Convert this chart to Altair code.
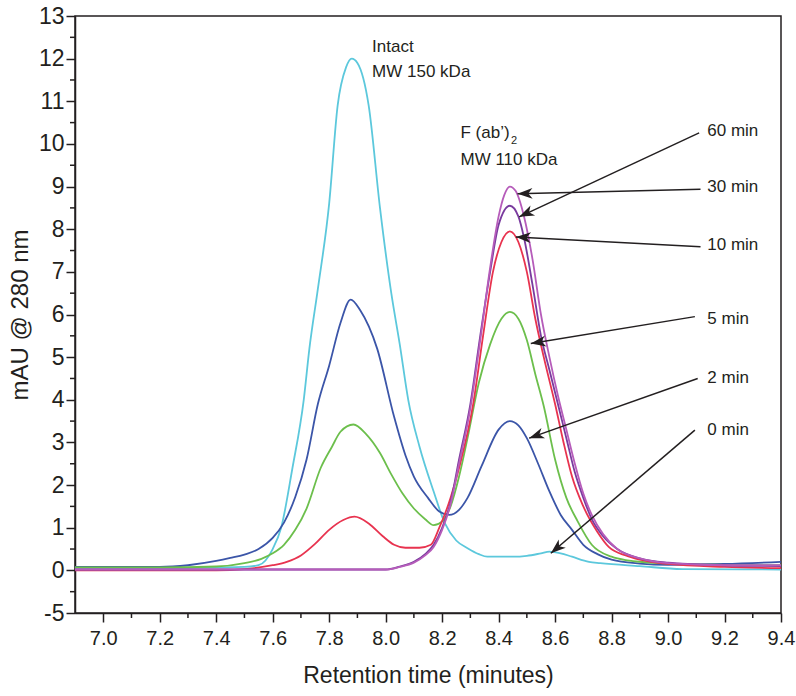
import math
import altair as alt
import pandas as pd

# ---------------- data ----------------
series = ["0 min", "2 min", "5 min", "10 min", "30 min", "60 min"]
colors = ["#5cc8dc", "#3b55a8", "#6cbf4c", "#e8334f", "#7a3b9e", "#b65cba"]

t_0 = [6.9, 7.2, 7.4, 7.5, 7.55, 7.6, 7.63, 7.67, 7.71, 7.73, 7.76, 7.8, 7.83, 7.86, 7.88, 7.9, 7.94,
       7.98, 8.02, 8.05, 8.08, 8.12, 8.17, 8.21, 8.25, 8.29, 8.33, 8.36, 8.45, 8.5, 8.55, 8.58, 8.62,
       8.66, 8.72, 8.76, 8.9, 9.05, 9.4]
y_0 = [0.06, 0.06, 0.07, 0.08, 0.12, 0.5, 1.0, 2.4, 4.0, 5.2, 6.6, 8.6, 10.9, 11.8, 12.0, 11.9, 10.9,
       8.5, 6.5, 5.3, 4.0, 2.9, 1.85, 1.1, 0.7, 0.52, 0.38, 0.32, 0.32, 0.34, 0.4, 0.44, 0.4,
       0.32, 0.2, 0.17, 0.1, 0.03, 0.02]

t_2 = [6.9, 7.2, 7.3, 7.4, 7.45, 7.5, 7.55, 7.6, 7.64, 7.68, 7.72, 7.76, 7.8, 7.84, 7.876, 7.91, 7.97,
       8.03, 8.07, 8.1, 8.15, 8.19, 8.225, 8.26, 8.29, 8.34, 8.4, 8.44, 8.47, 8.5, 8.54, 8.58, 8.62,
       8.66, 8.7, 8.75, 8.8, 8.9, 9.0, 9.2, 9.4]
y_2 = [0.08, 0.08, 0.12, 0.22, 0.29, 0.37, 0.5, 0.76, 1.12, 1.72, 2.6, 3.9, 4.8, 5.8, 6.35, 6.1, 5.2,
       3.6, 2.7, 2.2, 1.7, 1.38, 1.3, 1.42, 1.7, 2.45, 3.3, 3.5, 3.4, 3.1, 2.5, 1.85, 1.3,
       0.95, 0.6, 0.38, 0.25, 0.16, 0.13, 0.15, 0.2]

t_5 = [6.9, 7.2, 7.4, 7.5, 7.56, 7.6, 7.64, 7.68, 7.72, 7.77, 7.81, 7.84, 7.886, 7.93, 7.98, 8.02,
       8.06, 8.1, 8.14, 8.17, 8.2, 8.23, 8.26, 8.29, 8.33, 8.37, 8.41, 8.44, 8.47, 8.5, 8.53, 8.56,
       8.6, 8.64, 8.68, 8.73, 8.8, 8.85, 9.0, 9.2, 9.4]
y_5 = [0.07, 0.07, 0.09, 0.17, 0.27, 0.4, 0.6, 0.95, 1.45, 2.4, 2.9, 3.25, 3.42, 3.2, 2.75, 2.25,
       1.8, 1.45, 1.2, 1.06, 1.15, 1.5, 2.2, 3.1, 4.4, 5.3, 5.9, 6.06, 5.9, 5.4, 4.6, 3.85,
       2.6, 1.7, 1.15, 0.6, 0.32, 0.24, 0.16, 0.13, 0.12]

t_10 = [6.9, 7.4, 7.5, 7.6, 7.65, 7.7, 7.75, 7.8, 7.85, 7.89, 7.94, 7.99, 8.03, 8.07, 8.12, 8.16,
        8.19, 8.23, 8.26, 8.31, 8.345, 8.38, 8.41, 8.44, 8.47, 8.5, 8.53, 8.56, 8.6, 8.63, 8.66,
        8.7, 8.75, 8.79, 8.85, 8.9, 9.0, 9.2, 9.4]
y_10 = [0.0, 0.0, 0.03, 0.12, 0.2, 0.35, 0.62, 0.95, 1.18, 1.26, 1.1, 0.8, 0.6, 0.53, 0.53, 0.6,
        1.0, 1.7, 2.4, 3.9, 5.5, 7.0, 7.7, 7.95, 7.7, 7.0, 5.9, 5.0, 3.9, 3.0, 2.2,
        1.5, 0.9, 0.55, 0.35, 0.25, 0.15, 0.08, 0.05]

t_30 = [6.9, 8.0, 8.05, 8.1, 8.14, 8.17, 8.2, 8.23, 8.26, 8.3, 8.335, 8.37, 8.4, 8.44, 8.47, 8.49,
        8.52, 8.55, 8.58, 8.61, 8.64, 8.67, 8.7, 8.73, 8.77, 8.82, 8.9, 9.0, 9.2, 9.4]
y_30 = [0.02, 0.02, 0.09, 0.2, 0.38, 0.6, 1.0, 1.6, 2.6, 3.9, 5.5, 7.0, 8.1, 8.55, 8.3, 7.8,
        6.7, 5.5, 4.7, 3.9, 3.1, 2.3, 1.7, 1.2, 0.8, 0.5, 0.28, 0.18, 0.12, 0.1]

t_60 = [6.9, 8.0, 8.05, 8.1, 8.14, 8.17, 8.2, 8.23, 8.26, 8.3, 8.335, 8.37, 8.4, 8.42, 8.44, 8.46,
        8.49, 8.52, 8.55, 8.58, 8.61, 8.64, 8.67, 8.7, 8.73, 8.77, 8.82, 8.9, 9.0, 9.2, 9.4]
y_60 = [0.02, 0.02, 0.08, 0.18, 0.35, 0.55, 0.95, 1.55, 2.5, 3.8, 5.4, 7.1, 8.3, 8.8, 9.0, 8.9,
        8.3, 7.3, 6.0, 5.0, 4.1, 3.3, 2.5, 1.8, 1.3, 0.85, 0.5, 0.28, 0.17, 0.12, 0.12]

all_t = [t_0, t_2, t_5, t_10, t_30, t_60]
all_y = [y_0, y_2, y_5, y_10, y_30, y_60]

# arrow labels: label position, arrow start, arrow tip
arrow_labels = ["60 min", "30 min", "10 min", "5 min", "2 min", "0 min"]
label_t = [9.139, 9.139, 9.139, 9.139, 9.139, 9.139]
label_y = [10.3, 8.98, 7.62, 5.9, 4.52, 3.3]
start_t = [9.11, 9.115, 9.115, 9.095, 9.105, 9.095]
start_y = [10.26, 8.94, 7.59, 5.95, 4.50, 3.29]
tip_t = [8.473, 8.467, 8.461, 8.514, 8.508, 8.585]
tip_y = [8.29, 8.83, 7.82, 5.32, 3.10, 0.40]

annot_text = ["Intact", "MW 150 kDa", "F (ab’)", "MW 110 kDa"]
annot_t = [7.952, 7.952, 8.265, 8.265]
annot_y = [12.28, 11.69, 10.25, 9.62]
sub_text = ["2"]
sub_t = [8.444]
sub_y = [10.07]

x_major = [7.0, 7.2, 7.4, 7.6, 7.8, 8.0, 8.2, 8.4, 8.6, 8.8, 9.0, 9.2, 9.4]
x_minor = [7.1, 7.3, 7.5, 7.7, 7.9, 8.1, 8.3, 8.5, 8.7, 8.9, 9.1, 9.3]
y_major = [-1, 0, 1, 2, 3, 4, 5, 6, 7, 8, 9, 10, 11, 12, 13]
y_minor = [-0.5, 0.5, 1.5, 2.5, 3.5, 4.5, 5.5, 6.5, 7.5, 8.5, 9.5, 10.5, 11.5, 12.5]

# ---------------- layout ----------------
W, H = 706, 597
X_DOM = [6.9, 9.4]
Y_DOM = [-1, 13]
MAJ, MIN = 9, 5

FONT = "Liberation Sans, Arial, sans-serif"
INK = "#231f20"

rows = []
for s, ts, ys in zip(series, all_t, all_y):
    for t, y in zip(ts, ys):
        rows.append({"series": s, "t": t, "y": y})
df = pd.DataFrame(rows)


def px(t):
    return (t - X_DOM[0]) / (X_DOM[1] - X_DOM[0]) * W


def py(y):
    return (Y_DOM[1] - y) / (Y_DOM[1] - Y_DOM[0]) * H


angles = []
for st, sy, et, ey in zip(start_t, start_y, tip_t, tip_y):
    dx = px(et) - px(st)
    dy = py(ey) - py(sy)
    angles.append(math.degrees(math.atan2(dx, -dy)) % 360)

adf = pd.DataFrame({
    "label": arrow_labels, "lt": label_t, "ly": label_y,
    "t": start_t, "y": start_y, "t2": tip_t, "y2": tip_y, "angle": angles,
})
tdf = pd.DataFrame({"text": annot_text, "t": annot_t, "y": annot_y})
sdf = pd.DataFrame({"text": sub_text, "t": sub_t, "y": sub_y})

xscale = alt.Scale(domain=X_DOM, nice=False, zero=False)
yscale = alt.Scale(domain=Y_DOM, nice=False, zero=False)

xaxis = alt.Axis(
    values=x_major, format=".1f", orient="bottom",
    tickSize=MAJ, tickColor=INK, tickWidth=1.5,
    grid=False, labelFlush=False, labelOverlap=False,
    labelFont=FONT, labelFontSize=20, labelColor=INK, labelPadding=6,
    domainColor=INK, domainWidth=1.5,
    title="Retention time (minutes)", titleFont=FONT, titleFontSize=23,
    titleFontWeight="normal", titleColor=INK, titlePadding=16,
)
yaxis = alt.Axis(
    values=y_major, orient="left",
    tickSize=MAJ, tickColor=INK, tickWidth=1.5,
    labelExpr="datum.value == -1 ? '-5' : format(datum.value, 'd')",
    grid=False, labelFlush=False, labelOverlap=False,
    labelFont=FONT, labelFontSize=23, labelColor=INK, labelPadding=2,
    domainColor=INK, domainWidth=1.5,
    title="mAU @ 280 nm", titleFont=FONT, titleFontSize=24,
    titleFontWeight="normal", titleColor=INK, titlePadding=6,
)

lines = alt.Chart(df).mark_line(interpolate="monotone", strokeWidth=1.8).encode(
    x=alt.X("t:Q", scale=xscale, axis=xaxis),
    y=alt.Y("y:Q", scale=yscale, axis=yaxis),
    color=alt.Color("series:N", scale=alt.Scale(domain=series, range=colors), legend=None),
)


# minor tick marks, drawn as rules at the scale positions of the tick values
xminor = alt.Chart(pd.DataFrame({"t": x_minor})).mark_rule(color=INK, strokeWidth=1.5).encode(
    x=alt.X("t:Q", scale=xscale), y=alt.value(H), y2=alt.value(H + MIN)
)
yminor = alt.Chart(pd.DataFrame({"y": y_minor})).mark_rule(color=INK, strokeWidth=1.5).encode(
    y=alt.Y("y:Q", scale=yscale), x=alt.value(0), x2=alt.value(-MIN)
)

rules = alt.Chart(adf).mark_rule(color=INK, strokeWidth=1.5).encode(
    x="t:Q", y="y:Q", x2="t2:Q", y2="y2:Q"
)

ARROW = "M0,0 L0.36,1 L0,0.72 L-0.36,1 Z"
heads = alt.Chart(adf).mark_point(
    shape=ARROW, filled=True, color=INK, opacity=1, size=900, strokeWidth=0
).encode(
    x="t2:Q", y="y2:Q", angle=alt.Angle("angle:Q", scale=None),
)

labels = alt.Chart(adf).mark_text(
    align="left", baseline="middle", font=FONT, fontSize=17, color=INK
).encode(x="lt:Q", y="ly:Q", text="label:N")

annots = alt.Chart(tdf).mark_text(
    align="left", baseline="middle", font=FONT, fontSize=17, color=INK
).encode(x="t:Q", y="y:Q", text="text:N")

subs = alt.Chart(sdf).mark_text(
    align="left", baseline="middle", font=FONT, fontSize=11, color=INK
).encode(x="t:Q", y="y:Q", text="text:N")

chart = alt.layer(lines, xminor, yminor, rules, heads, labels, annots, subs).properties(
    width=W, height=H,
    padding={"left": 75, "top": 16, "right": 15, "bottom": 83},
    autosize=alt.AutoSizeParams(type="none"),
).configure_view(stroke=INK, strokeWidth=1.5)

chart.save("out.html", embed_options={"renderer": "svg", "actions": False})
